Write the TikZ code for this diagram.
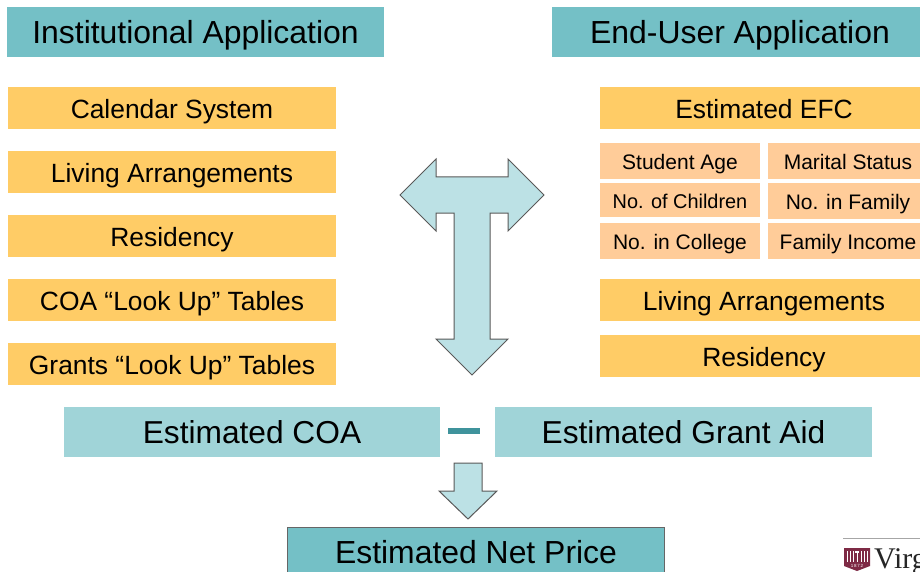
\documentclass[tikz,border=0pt]{standalone}
\usepackage{fontspec}
\setmainfont{Liberation Sans}
\newfontfamily\logofont{Liberation Serif}
\definecolor{headteal}{HTML}{74C0C6}
\definecolor{midteal}{HTML}{A0D4D8}
\definecolor{lightteal}{HTML}{BCE1E5}
\definecolor{darkteal}{HTML}{3F939C}
\definecolor{goldbox}{HTML}{FFCC66}
\definecolor{peachbox}{HTML}{FFCC99}
\definecolor{maroon}{HTML}{7E2A45}
\tikzset{
	headbox/.style = {fill=headteal, minimum width=377pt, minimum height=50pt, inner sep=0pt, text height=30pt, text depth=6pt, font=\fontsize{31.9}{36}\selectfont},
	midbox/.style = {headbox, fill=midteal, text height=28pt, font=\fontsize{31.7}{36}\selectfont},
	goldtag/.style = {fill=goldbox, minimum width=328pt, minimum height=42pt, inner sep=0pt, text height=26pt, text depth=5pt, font=\fontsize{26.4}{30}\selectfont},
	peachtag/.style = {fill=peachbox, minimum width=160pt, minimum height=36pt, inner sep=0pt, text height=21pt, text depth=4pt, font=\fontsize{21}{24}\selectfont},
	bigarrow/.style = {fill=lightteal, draw=black!65, line width=1pt, line join=miter}
}
\begin{document}
\begin{tikzpicture}[x=1pt, y=-1pt]
		\clip (0,0) rectangle (920,572);
		\useasboundingbox (0,0) rectangle (920,572);
		
		% headers
		\node [headbox] (instapp) at (195.5, 32) {Institutional Application};
		\node [headbox] (userapp) at (740, 32) {End-User Application};
		
		% left column
		\node [goldtag] (calsys) at (172, 108) {Calendar System};
		\node [goldtag] (livleft) at (172, 172) {Living Arrangements};
		\node [goldtag] (resleft) at (172, 236) {Residency};
		\node [goldtag] (coatab) at (172, 300) {COA “Look Up” Tables};
		\node [goldtag] (granttab) at (172, 364) {Grants “Look Up” Tables};
		
		% right column
		\node [goldtag] (efc) at (764, 108) {Estimated EFC};
		\node [peachtag] (age) at (680, 161) {Student Age};
		\node [peachtag] (marital) at (848, 161) {Marital Status};
		\node [peachtag, minimum height=34pt, font=\fontsize{19.9}{24}\selectfont] (children) at (680, 200) {No. of Children};
		\node [peachtag] (family) at (848, 201) {No. in Family};
		\node [peachtag] (college) at (680, 241) {No. in College};
		\node [peachtag] (income) at (848, 241) {Family Income};
		\node [goldtag] (livright) at (764, 300) {Living Arrangements};
		\node [goldtag] (resright) at (764, 356) {Residency};
		
		% T arrow
		\draw [bigarrow] (400,195) -- (436,159) -- (436,177) -- (508,177) -- (508,159) -- (544,195) -- (508,231) -- (508,213) -- (490,213) -- (490,339) -- (508,339) -- (472,375) -- (436,339) -- (454,339) -- (454,213) -- (436,213) -- (436,231) -- cycle;
		
		% result row
		\node [midbox, minimum width=376pt] (estcoa) at (252, 432) {Estimated COA};
		\node [midbox] (estgrant) at (683.5, 432) {Estimated Grant Aid};
		\fill [darkteal] (448,428) rectangle (480,434);
		\draw [bigarrow] (454,463) -- (482,463) -- (482,491) -- (497,491) -- (468,519) -- (439,491) -- (454,491) -- cycle;
		\node [headbox, minimum height=54pt, draw=black!60, line width=.8pt, text height=24pt] (netprice) at (476, 554) {Estimated Net Price};
		
		% logo
		\draw [black!35, line width=1pt] (843,538) -- (920,538);
		\fill [maroon] (844,548) -- (870,548) -- (870,566) -- (857,571) -- (844,566) -- cycle;
		\foreach \x in {847,850,853,861,864,867} {
			\draw [white, line width=.7pt] (\x,551) -- (\x,562);
		}
		\fill [white] (855,551) rectangle (859,553);
		\draw [white, line width=1pt] (857,553) -- (857,562);
		\node [inner sep=0pt, text=white, font=\fontsize{4.5}{5}\selectfont] (logoyear) at (857, 566) {1\,8\,7\,2};
		\node [anchor=base west, inner sep=0pt, font=\logofont\fontsize{30}{32}\selectfont, text=black!85] (logotext) at (874, 568) {Virg};
		
		\end{tikzpicture}
\end{document}
